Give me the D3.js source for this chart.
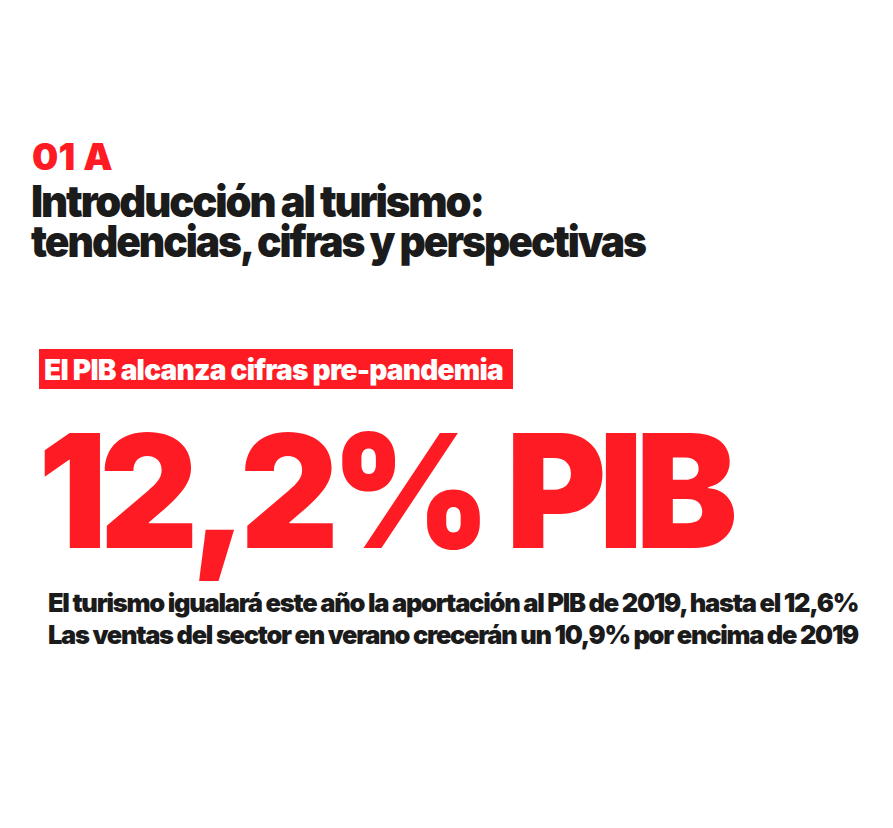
<!DOCTYPE html>
<html>
<head>
<meta charset="utf-8">
<script src="https://cdn.jsdelivr.net/npm/d3@7"></script>
<style>
  body { margin: 0; background: #fff; }
  text { font-family: Inter, Roboto, "Noto Sans", sans-serif; }
</style>
</head>
<body>
<div id="grafico"></div>
<script>
// textos de la ficha
const seccion = ["01 A"];
const titulo = ["Introducción al turismo:", "tendencias, cifras y perspectivas"];
const etiqueta = ["El PIB alcanza cifras pre-pandemia"];
const cifra = ["12,2% PIB"];
const detalles = [
  "El turismo igualará este año la aportación al PIB de 2019, hasta el 12,6%",
  "Las ventas del sector en verano crecerán un 10,9% por encima de 2019"
];

const rojo = "#fe1b23", negro = "#1b1b1b";
const ancho = 893, alto = 828;

const $svg = d3.select("#grafico")
  .append("svg")
  .attr("width", ancho)
  .attr("height", alto);

// escribe una linea y la ajusta al ancho medido en la imagen:
// primero aprieta el espaciado, y si no alcanza estrecha las letras
const linea = (txt, x, y, size, peso, color, largo) => {
  const t = $svg.append("text")
    .attr("x", x)
    .attr("y", y)
    .attr("font-size", size)
    .attr("font-weight", peso)
    .attr("fill", color)
    .text(txt);
  const natural = t.node().getComputedTextLength();
  let espacio = (largo - natural) / txt.length;
  espacio = Math.max(espacio, -0.05 * size);
  t.attr("letter-spacing", espacio.toFixed(2));
  const ahora = t.node().getComputedTextLength();
  if (Math.abs(ahora - largo) > 2) {
    t.attr("textLength", largo).attr("lengthAdjust", "spacingAndGlyphs");
  }
  return t;
};

// SECCION
linea(seccion[0], 32, 170, 37, 900, rojo, 81);

// TITULO
const yTitulo = d3.scalePoint().domain(titulo).range([217, 257]);
const anchosTitulo = [452, 614];
titulo.forEach((t, i) => linea(t, 31, yTitulo(t), 44, 900, negro, anchosTitulo[i]));

// ETIQUETA ROJA
$svg.append("rect")
  .attr("x", 39).attr("y", 349)
  .attr("width", 474).attr("height", 40)
  .attr("fill", rojo);
linea(etiqueta[0], 44, 380, 28, 900, "#fff", 459);

// CIFRA GRANDE
linea(cifra[0], 38, 548, 158, 900, rojo, 692);

// DETALLES
const yDetalles = d3.scalePoint().domain(detalles).range([612, 644]);
const anchosDetalles = [810, 810];
detalles.forEach((t, i) => linea(t, 48, yDetalles(t), 26, 900, negro, anchosDetalles[i]));
</script>
</body>
</html>
